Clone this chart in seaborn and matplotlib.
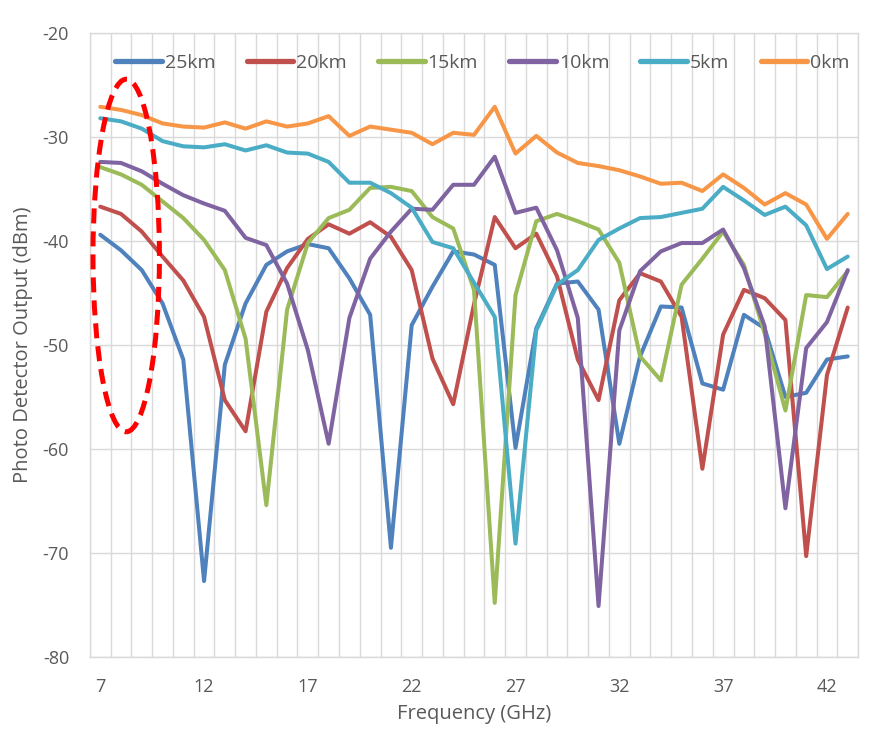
import numpy as np
import pandas as pd
import matplotlib
matplotlib.use("Agg")
import matplotlib.pyplot as plt
import seaborn as sns
from matplotlib.patches import Ellipse
from matplotlib.ticker import MultipleLocator, FixedLocator

sns.set_theme(style="white")
plt.rcParams['font.family'] = ['Open Sans', 'DejaVu Sans']
plt.rcParams['axes.unicode_minus'] = False

freq = list(range(7, 44))

km25 = [-39.4, -40.9, -42.8, -46.0, -51.4, -72.7, -51.9, -46.0, -42.3, -41.0,
        -40.3, -40.7, -43.6, -47.1, -69.5, -48.1, -44.4, -41.0, -41.3, -42.3,
        -59.9, -48.4, -44.1, -43.9, -46.6, -59.5, -51.1, -46.3, -46.4, -53.7,
        -54.3, -47.1, -48.4, -55.0, -54.6, -51.4, -51.1]
km20 = [-36.7, -37.4, -39.1, -41.5, -43.8, -47.3, -55.3, -58.3, -46.8, -42.6,
        -39.8, -38.4, -39.3, -38.2, -39.6, -42.8, -51.3, -55.7, -46.1, -37.7,
        -40.7, -39.3, -43.4, -51.4, -55.3, -45.7, -43.1, -43.9, -47.3, -61.9,
        -49.0, -44.7, -45.5, -47.6, -70.3, -52.9, -46.4]
km15 = [-32.9, -33.6, -34.6, -36.2, -37.8, -39.9, -42.8, -49.4, -65.4, -46.6,
        -40.2, -37.8, -37.0, -34.9, -34.8, -35.2, -37.7, -38.8, -44.7, -74.8,
        -45.2, -38.1, -37.4, -38.1, -38.9, -42.1, -51.1, -53.4, -44.2, -41.7,
        -39.1, -42.3, -48.9, -56.3, -45.2, -45.4, -42.9]
km10 = [-32.4, -32.5, -33.3, -34.5, -35.6, -36.4, -37.1, -39.7, -40.4, -44.1,
        -50.5, -59.5, -47.4, -41.7, -39.1, -36.9, -37.0, -34.6, -34.6, -31.9,
        -37.3, -36.8, -40.9, -47.4, -75.1, -48.6, -42.9, -41.0, -40.2, -40.2,
        -38.9, -42.6, -48.2, -65.7, -50.3, -47.8, -42.8]
km5 = [-28.2, -28.5, -29.2, -30.4, -30.9, -31.0, -30.7, -31.3, -30.8, -31.5,
       -31.6, -32.4, -34.4, -34.4, -35.4, -36.8, -40.1, -40.7, -44.0, -47.3,
       -69.1, -48.6, -44.2, -42.8, -39.9, -38.8, -37.8, -37.7, -37.3, -36.9,
       -34.8, -36.1, -37.5, -36.7, -38.5, -42.7, -41.5]
km0 = [-27.1, -27.4, -27.9, -28.7, -29.0, -29.1, -28.6, -29.2, -28.5, -29.0,
       -28.7, -28.0, -29.9, -29.0, -29.3, -29.6, -30.7, -29.6, -29.8, -27.1,
       -31.6, -29.9, -31.5, -32.5, -32.8, -33.2, -33.8, -34.5, -34.4, -35.2,
       -33.6, -34.9, -36.5, -35.4, -36.5, -39.8, -37.4]

labels = ["25km", "20km", "15km", "10km", "5km", "0km"]
colors = ["#4F81BD", "#C0504D", "#9BBB59", "#8064A2", "#4BACC6", "#F79646"]

frames = []
for lab, vals in zip(labels, [km25, km20, km15, km10, km5, km0]):
    frames.append(pd.DataFrame({"Frequency": freq, "Output": vals, "Distance": lab}))
df = pd.concat(frames, ignore_index=True)

fig = plt.figure(figsize=(8.81, 7.29), dpi=100)
ax = fig.add_axes([0.102, 0.0988, 0.872, 0.856])

sns.lineplot(data=df, x="Frequency", y="Output", hue="Distance", hue_order=labels,
             palette=colors, linewidth=2.9, ax=ax, legend=True)

grid_c = "#d9d9d9"
txt_c = "#595959"
ax.set_xlim(6.5, 43.5)
ax.set_ylim(-80, -20)
ax.xaxis.set_major_locator(FixedLocator(list(range(7, 44, 5))))
ax.xaxis.set_minor_locator(MultipleLocator(1, offset=0.5))
ax.yaxis.set_major_locator(MultipleLocator(10))
ax.grid(which="minor", axis="x", color=grid_c, linewidth=1)
ax.grid(which="major", axis="y", color=grid_c, linewidth=1)
ax.grid(which="major", axis="x", visible=False)
ax.tick_params(which="both", length=0, labelsize=13, colors=txt_c)
ax.tick_params(axis="x", pad=15)
ax.tick_params(axis="y", pad=15)
for s in ax.spines.values():
    s.set_color(grid_c)
    s.set_linewidth(1)

ax.set_xlabel("Frequency (GHz)", fontsize=14.5, color=txt_c, labelpad=6)
ax.set_ylabel("Photo Detector Output (dBm)", fontsize=14.5, color=txt_c, labelpad=7)

leg = ax.legend(loc="upper center", bbox_to_anchor=(0.511, 0.995), ncol=6, frameon=False,
                fontsize=14, handlelength=2.4, columnspacing=1.6, handletextpad=0.15)
for t in leg.get_texts():
    t.set_color(txt_c)
for l in leg.get_lines():
    l.set_linewidth(3.8)
    l.set_solid_capstyle("round")

# red dashed highlight around the low-frequency end
ell = Ellipse((8.25, -41.4), width=3.2, height=33.9, fill=False, edgecolor="red",
              linestyle=(0, (3, 1.6)), linewidth=3.6, zorder=5)
ax.add_patch(ell)

fig.savefig("out.png", dpi=100)
